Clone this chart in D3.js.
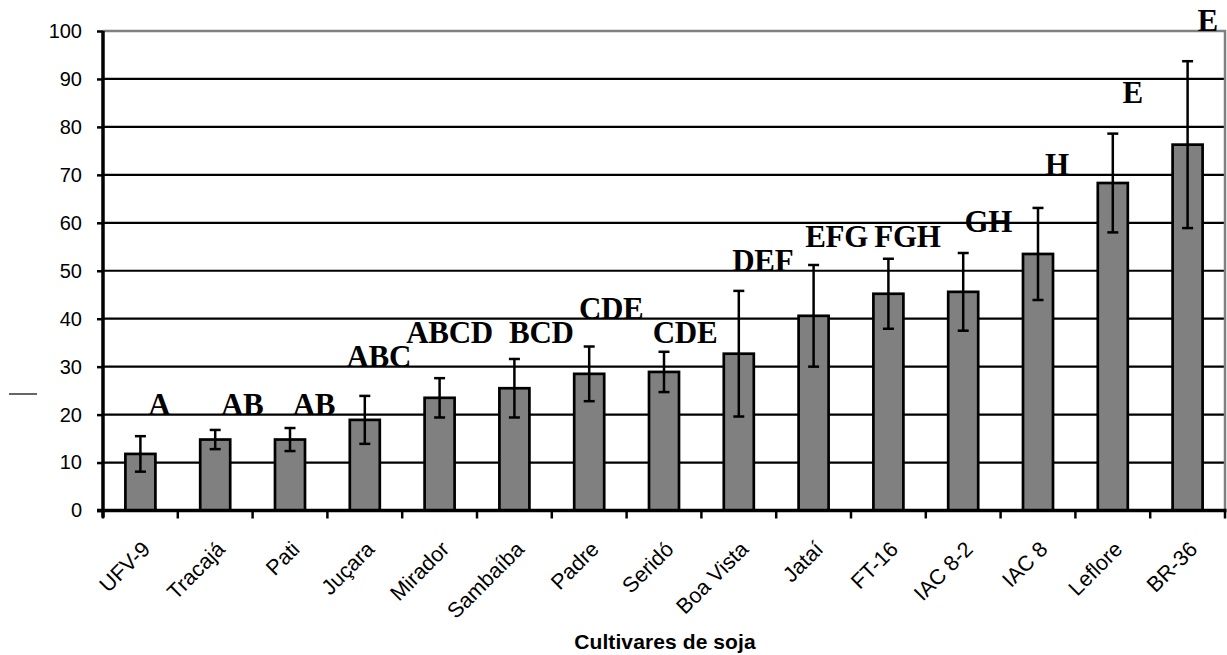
<!DOCTYPE html>
<html>
<head>
<meta charset="utf-8">
<script src="https://cdn.jsdelivr.net/npm/d3@7"></script>
<style>
  html, body { margin: 0; padding: 0; background: #fff; }
  svg { display: block; }
</style>
</head>
<body>
<svg id="chart" width="1227" height="655"></svg>
<script>
// Soybean cultivars, mean value with standard deviation and significance letters
const cultivars = ["UFV-9", "Tracajá", "Pati", "Juçara", "Mirador", "Sambaíba", "Padre", "Seridó",
  "Boa Vista", "Jataí", "FT-16", "IAC 8-2", "IAC 8", "Leflore", "BR-36"];
const means = [11.8, 14.8, 14.8, 18.9, 23.5, 25.5, 28.5, 28.9, 32.7, 40.6, 45.2, 45.6, 53.5, 68.3, 76.3];
const deviations = [3.7, 2.0, 2.4, 5.0, 4.1, 6.1, 5.7, 4.2, 13.1, 10.6, 7.3, 8.1, 9.6, 10.3, 17.4];
const letters = ["A", "AB", "AB", "ABC", "ABCD", "BCD", "CDE", "CDE", "DEF", "EFG", "FGH", "GH", "H", "E", "E"];
// height (in axis units) at which each letter group is written
const letterLevels = [20, 20, 20, 30, 35, 35, 40, 35, 50, 55, 55, 58, 70, 85, 100];
const yTicks = [0, 10, 20, 30, 40, 50, 60, 70, 80, 90, 100];
const xTitle = "Cultivares de soja";

const svg = d3.select("#chart");
const plot = { left: 103, right: 1225, top: 31, bottom: 510.5 };

const x = d3.scaleBand().domain(cultivars).range([plot.left, plot.right]).padding(0);
const y = d3.scaleLinear().domain([0, 100]).range([plot.bottom, plot.top]);
const barW = 30;
// horizontal nudge (px) of each letter group to the right of its bar centre
const letterNudge = [19, 27, 24, 14, 10, 27, 22, 21, 24, 23, 19, 25, 19, 20, 20];

// horizontal grid lines
svg.append("g").selectAll("line")
  .data(yTicks.filter(t => t > 0 && t < 100))
  .join("line")
  .attr("x1", plot.left).attr("x2", plot.right)
  .attr("y1", d => y(d)).attr("y2", d => y(d))
  .attr("stroke", "#000").attr("stroke-width", 2.2);

// plot frame (top and right) in grey
svg.append("path")
  .attr("d", `M${plot.left},${y(100)}H${plot.right}V${plot.bottom}`)
  .attr("fill", "none").attr("stroke", "#808080").attr("stroke-width", 2.5);

// bars
svg.append("g").selectAll("rect")
  .data(cultivars)
  .join("rect")
  .attr("x", d => x(d) + (x.bandwidth() - barW) / 2)
  .attr("width", barW)
  .attr("y", (d, i) => y(means[i]))
  .attr("height", (d, i) => y(0) - y(means[i]))
  .attr("fill", "#808080")
  .attr("stroke", "#000").attr("stroke-width", 2.7);

// error bars
const eb = svg.append("g").attr("stroke", "#000").attr("stroke-width", 2.5);
cultivars.forEach((c, i) => {
  const cx = x(c) + x.bandwidth() / 2;
  const hi = y(means[i] + deviations[i]), lo = y(means[i] - deviations[i]);
  eb.append("line").attr("x1", cx).attr("x2", cx).attr("y1", hi).attr("y2", lo);
  eb.append("line").attr("x1", cx - 5.5).attr("x2", cx + 5.5).attr("y1", hi).attr("y2", hi);
  eb.append("line").attr("x1", cx - 5.5).attr("x2", cx + 5.5).attr("y1", lo).attr("y2", lo);
});

// significance letters
svg.append("g").selectAll("text")
  .data(cultivars)
  .join("text")
  .attr("x", (d, i) => x(d) + x.bandwidth() / 2 + letterNudge[i])
  .attr("y", (d, i) => y(letterLevels[i]))
  .attr("text-anchor", "middle")
  .attr("font-family", "'Liberation Serif', 'Times New Roman', serif")
  .attr("font-weight", "bold")
  .attr("font-size", 31)
  .attr("letter-spacing", -0.3)
  .text((d, i) => letters[i]);

// y axis
const yAxis = svg.append("g")
  .attr("transform", `translate(${plot.left},0)`)
  .call(d3.axisLeft(y).tickValues(yTicks).tickSize(6).tickPadding(15).tickFormat(d3.format("d")));
yAxis.select(".domain").attr("stroke", "#000").attr("stroke-width", 3.5)
  .attr("d", `M0,${plot.bottom + 7}V${plot.top}`);
yAxis.selectAll(".tick line").attr("stroke", "#000").attr("stroke-width", 2.5);
yAxis.selectAll(".tick text")
  .attr("font-family", "'Liberation Sans', Arial, sans-serif")
  .attr("font-size", 20).attr("fill", "#000");

// x axis: category labels rotated, tick marks on category boundaries
const xAxis = svg.append("g")
  .attr("transform", `translate(0,${plot.bottom})`)
  .call(d3.axisBottom(x).tickSize(0).tickPadding(0));
xAxis.select(".domain").attr("stroke", "#000").attr("stroke-width", 3.5)
  .attr("d", `M${plot.left - 6},0H${plot.right + 1.5}`);
xAxis.selectAll(".tick text")
  .attr("font-family", "'Liberation Sans', Arial, sans-serif")
  .attr("font-size", 21.5).attr("fill", "#000")
  .attr("text-anchor", "end")
  .attr("dy", 0)
  .attr("transform", "translate(11,40) rotate(-45)");

const boundaries = cultivars.map(c => x(c)).concat([plot.right]);
svg.append("g").selectAll("line")
  .data(boundaries)
  .join("line")
  .attr("x1", d => d).attr("x2", d => d)
  .attr("y1", plot.bottom).attr("y2", plot.bottom + 8)
  .attr("stroke", "#000").attr("stroke-width", 2.5);

// x axis title
svg.append("text")
  .attr("x", (plot.left + plot.right) / 2 + 1).attr("y", 649)
  .attr("text-anchor", "middle")
  .attr("font-family", "'Liberation Sans', Arial, sans-serif")
  .attr("font-weight", "bold").attr("font-size", 21)
  .attr("letter-spacing", 0.1)
  .text(xTitle);

// short stray dash at the left edge
svg.append("line")
  .attr("x1", 9).attr("x2", 37).attr("y1", 394).attr("y2", 394)
  .attr("stroke", "#000").attr("stroke-width", 1.2);
</script>
</body>
</html>
